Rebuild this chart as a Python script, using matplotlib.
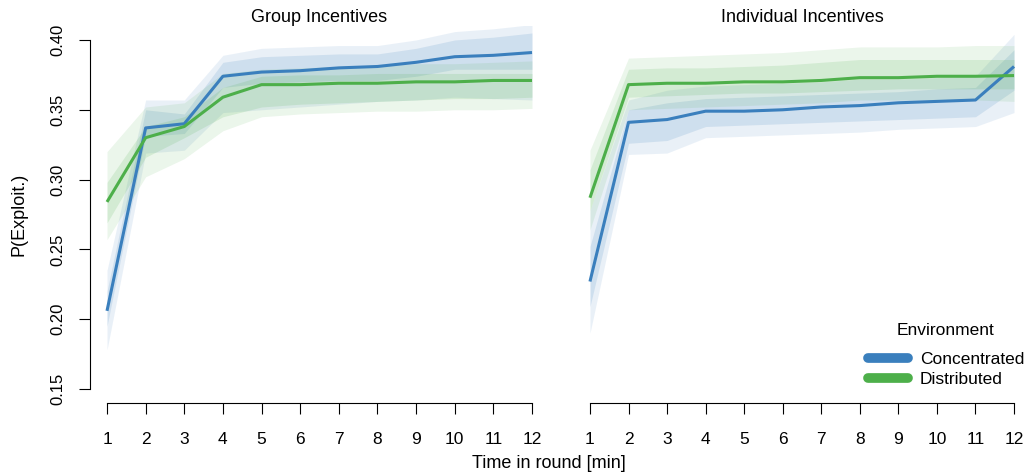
import numpy as np
import matplotlib.pyplot as plt

plt.rcParams['font.family'] = ['Liberation Sans', 'DejaVu Sans']

minutes = [1, 2, 3, 4, 5, 6, 7, 8, 9, 10, 11, 12]
panel_titles = ["Group Incentives", "Individual Incentives"]
env_labels = ["Concentrated", "Distributed"]
y_ticks = [0.15, 0.20, 0.25, 0.30, 0.35, 0.40]

# Group incentives - concentrated: mean, outer (95%) and inner (50%) bands
grp_conc_mean = [0.206, 0.337, 0.340, 0.374, 0.377, 0.378, 0.380, 0.381, 0.384, 0.388, 0.389, 0.391]
grp_conc_lo95 = [0.178, 0.319, 0.321, 0.348, 0.350, 0.352, 0.354, 0.356, 0.357, 0.359, 0.358, 0.357]
grp_conc_hi95 = [0.235, 0.357, 0.357, 0.389, 0.394, 0.395, 0.396, 0.396, 0.400, 0.406, 0.408, 0.411]
grp_conc_lo50 = [0.195, 0.331, 0.333, 0.366, 0.369, 0.370, 0.371, 0.371, 0.374, 0.379, 0.379, 0.379]
grp_conc_hi50 = [0.220, 0.350, 0.347, 0.384, 0.388, 0.389, 0.390, 0.390, 0.394, 0.400, 0.402, 0.405]

# Group incentives - distributed
grp_dist_mean = [0.284, 0.330, 0.338, 0.359, 0.368, 0.368, 0.369, 0.369, 0.370, 0.370, 0.371, 0.371]
grp_dist_lo95 = [0.257, 0.302, 0.315, 0.335, 0.345, 0.347, 0.348, 0.349, 0.349, 0.350, 0.350, 0.351]
grp_dist_hi95 = [0.320, 0.352, 0.355, 0.376, 0.379, 0.380, 0.381, 0.382, 0.383, 0.383, 0.384, 0.385]
grp_dist_lo50 = [0.269, 0.316, 0.330, 0.345, 0.352, 0.354, 0.355, 0.356, 0.357, 0.358, 0.358, 0.359]
grp_dist_hi50 = [0.298, 0.338, 0.345, 0.366, 0.374, 0.375, 0.375, 0.376, 0.376, 0.376, 0.376, 0.376]

# Individual incentives - concentrated
ind_conc_mean = [0.227, 0.341, 0.343, 0.349, 0.349, 0.350, 0.352, 0.353, 0.355, 0.356, 0.357, 0.381]
ind_conc_lo95 = [0.190, 0.318, 0.319, 0.330, 0.331, 0.332, 0.333, 0.334, 0.336, 0.337, 0.338, 0.348]
ind_conc_hi95 = [0.278, 0.357, 0.364, 0.367, 0.368, 0.369, 0.370, 0.372, 0.372, 0.373, 0.374, 0.404]
ind_conc_lo50 = [0.209, 0.326, 0.328, 0.338, 0.339, 0.340, 0.341, 0.342, 0.343, 0.344, 0.345, 0.364]
ind_conc_hi50 = [0.252, 0.350, 0.355, 0.358, 0.359, 0.360, 0.361, 0.362, 0.363, 0.365, 0.366, 0.393]

# Individual incentives - distributed
ind_dist_mean = [0.287, 0.368, 0.369, 0.369, 0.370, 0.370, 0.371, 0.373, 0.373, 0.374, 0.374, 0.3745]
ind_dist_lo95 = [0.264, 0.350, 0.351, 0.352, 0.353, 0.354, 0.355, 0.357, 0.357, 0.357, 0.357, 0.356]
ind_dist_hi95 = [0.321, 0.387, 0.388, 0.389, 0.390, 0.391, 0.393, 0.395, 0.395, 0.395, 0.396, 0.396]
ind_dist_lo50 = [0.278, 0.359, 0.360, 0.361, 0.362, 0.362, 0.363, 0.364, 0.365, 0.365, 0.365, 0.365]
ind_dist_hi50 = [0.307, 0.379, 0.380, 0.380, 0.381, 0.382, 0.384, 0.386, 0.386, 0.386, 0.386, 0.386]

BLUE = '#3a7fbd'
GREEN = '#4daf4a'


def draw_series(ax, mean, lo95, hi95, lo50, hi50, color):
    ax.fill_between(minutes, lo95, hi95, color=color, alpha=0.11, lw=0)
    ax.fill_between(minutes, lo50, hi50, color=color, alpha=0.15, lw=0)


def main():
    fig = plt.figure(figsize=(10.27, 4.76), dpi=100)
    W, H = 1027, 476

    ax_l = fig.add_axes([90 / W, 73 / H, 459 / W, 377 / H])
    ax_r = fig.add_axes([573 / W, 73 / H, 458 / W, 377 / H])

    panels = [
        (ax_l, [(grp_conc_mean, grp_conc_lo95, grp_conc_hi95, grp_conc_lo50, grp_conc_hi50),
                (grp_dist_mean, grp_dist_lo95, grp_dist_hi95, grp_dist_lo50, grp_dist_hi50)]),
        (ax_r, [(ind_conc_mean, ind_conc_lo95, ind_conc_hi95, ind_conc_lo50, ind_conc_hi50),
                (ind_dist_mean, ind_dist_lo95, ind_dist_hi95, ind_dist_lo50, ind_dist_hi50)]),
    ]

    for i, (ax, series) in enumerate(panels):
        # uncertainty bands first, then the mean lines on top
        for (mean, lo95, hi95, lo50, hi50), col in zip(series, [BLUE, GREEN]):
            draw_series(ax, mean, lo95, hi95, lo50, hi50, col)
        for (mean, *_), col in zip(series, [BLUE, GREEN]):
            ax.plot(minutes, mean, color=col, lw=2.2, solid_capstyle='butt')

        ax.set_xlim(1 - 0.44, 12 + 0.44)
        ax.set_ylim(0.14, 0.41)
        ax.set_title(panel_titles[i], fontsize=13, pad=1)

        for s in ['top', 'right']:
            ax.spines[s].set_visible(False)
        ax.spines['bottom'].set_bounds(1, 12)
        ax.set_xticks(minutes)
        ax.tick_params(axis='x', length=8, width=0.8, pad=13, labelsize=12.5)

        if i == 0:
            ax.spines['left'].set_bounds(0.15, 0.40)
            ax.set_yticks(y_ticks)
            ax.set_yticklabels([f"{v:.2f}" for v in y_ticks], rotation=90, va='center')
            ax.tick_params(axis='y', length=8, width=0.8, pad=10, labelsize=12)
            ax.set_ylabel("P(Exploit.)", fontsize=13, labelpad=16)
        else:
            ax.spines['left'].set_visible(False)
            ax.set_yticks([])

    fig.text(549 / W, 1 - 463 / H, "Time in round [min]", ha='center', va='center', fontsize=13)

    # legend for the environment colours
    handles = [plt.Line2D([], [], color=c, lw=7, solid_capstyle='round') for c in [BLUE, GREEN]]
    leg = ax_r.legend(handles, env_labels, title="Environment", frameon=False,
                      loc='upper left', bbox_to_anchor=(852 / W, 1 - 307 / H),
                      bbox_transform=fig.transFigure, fontsize=12.5, title_fontsize=12.5,
                      handlelength=2.3, handletextpad=0.7, labelspacing=0.3)
    leg._legend_box.align = 'center'
    leg._legend_box.sep = 10

    fig.savefig("out.png", dpi=100)


if __name__ == "__main__":
    main()
